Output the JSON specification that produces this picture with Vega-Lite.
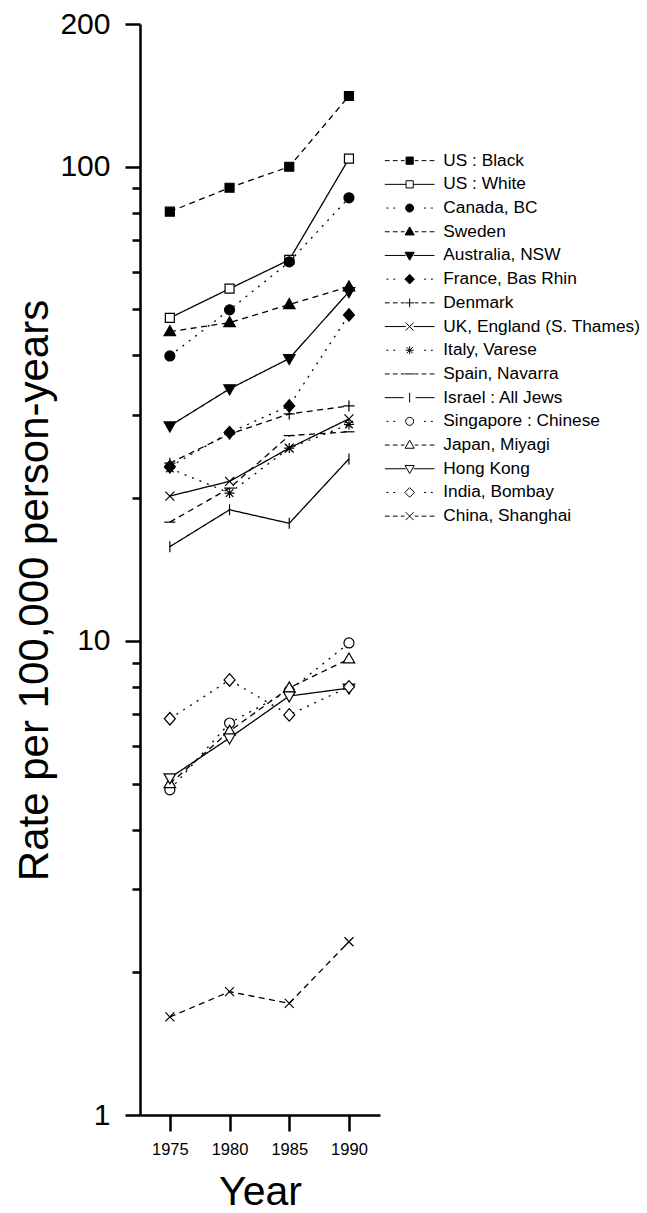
{
  "$schema": "https://vega.github.io/schema/vega-lite/v6.json",
  "autosize": "none",
  "padding": {"left": 140, "top": 24, "right": 267, "bottom": 98},
  "width": 240,
  "height": 1091,
  "background": "white",
  "config": {
    "view": {"stroke": null},
    "font": "Liberation Sans",
    "axis": {"grid": false, "domainColor": "black", "tickColor": "black", "labelColor": "black", "titleColor": "black", "titleFontWeight": "normal", "labelFont": "Liberation Sans", "titleFont": "Liberation Sans"}
  },
  "data": {
    "values": [
      {"country": "US : Black", "year": 1975, "rate": 80.4},
      {"country": "US : Black", "year": 1980, "rate": 90.3},
      {"country": "US : Black", "year": 1985, "rate": 100},
      {"country": "US : Black", "year": 1990, "rate": 141},
      {"country": "US : White", "year": 1975, "rate": 48.0},
      {"country": "US : White", "year": 1980, "rate": 55.3},
      {"country": "US : White", "year": 1985, "rate": 63.6},
      {"country": "US : White", "year": 1990, "rate": 104},
      {"country": "Canada, BC", "year": 1975, "rate": 39.9},
      {"country": "Canada, BC", "year": 1980, "rate": 49.9},
      {"country": "Canada, BC", "year": 1985, "rate": 63.0},
      {"country": "Canada, BC", "year": 1990, "rate": 86.0},
      {"country": "Sweden", "year": 1975, "rate": 44.9},
      {"country": "Sweden", "year": 1980, "rate": 46.9},
      {"country": "Sweden", "year": 1985, "rate": 51.2},
      {"country": "Sweden", "year": 1990, "rate": 55.8},
      {"country": "Australia, NSW", "year": 1975, "rate": 28.4},
      {"country": "Australia, NSW", "year": 1980, "rate": 34.0},
      {"country": "Australia, NSW", "year": 1985, "rate": 39.4},
      {"country": "Australia, NSW", "year": 1990, "rate": 54.5},
      {"country": "France, Bas Rhin", "year": 1975, "rate": 23.3},
      {"country": "France, Bas Rhin", "year": 1980, "rate": 27.5},
      {"country": "France, Bas Rhin", "year": 1985, "rate": 31.3},
      {"country": "France, Bas Rhin", "year": 1990, "rate": 48.7},
      {"country": "Denmark", "year": 1975, "rate": 23.7},
      {"country": "Denmark", "year": 1980, "rate": 27.3},
      {"country": "Denmark", "year": 1985, "rate": 30.1},
      {"country": "Denmark", "year": 1990, "rate": 31.3},
      {"country": "UK, England (S. Thames)", "year": 1975, "rate": 20.2},
      {"country": "UK, England (S. Thames)", "year": 1980, "rate": 21.7},
      {"country": "UK, England (S. Thames)", "year": 1985, "rate": 25.5},
      {"country": "UK, England (S. Thames)", "year": 1990, "rate": 29.4},
      {"country": "Italy, Varese", "year": 1975, "rate": 23.1},
      {"country": "Italy, Varese", "year": 1980, "rate": 20.5},
      {"country": "Italy, Varese", "year": 1985, "rate": 25.5},
      {"country": "Italy, Varese", "year": 1990, "rate": 28.6},
      {"country": "Spain, Navarra", "year": 1975, "rate": 17.8},
      {"country": "Spain, Navarra", "year": 1980, "rate": 21.0},
      {"country": "Spain, Navarra", "year": 1985, "rate": 27.1},
      {"country": "Spain, Navarra", "year": 1990, "rate": 27.6},
      {"country": "Israel : All Jews", "year": 1975, "rate": 15.8},
      {"country": "Israel : All Jews", "year": 1980, "rate": 18.9},
      {"country": "Israel : All Jews", "year": 1985, "rate": 17.7},
      {"country": "Israel : All Jews", "year": 1990, "rate": 24.2},
      {"country": "Singapore : Chinese", "year": 1975, "rate": 4.85},
      {"country": "Singapore : Chinese", "year": 1980, "rate": 6.71},
      {"country": "Singapore : Chinese", "year": 1985, "rate": 7.85},
      {"country": "Singapore : Chinese", "year": 1990, "rate": 9.9},
      {"country": "Japan, Miyagi", "year": 1975, "rate": 5.0},
      {"country": "Japan, Miyagi", "year": 1980, "rate": 6.45},
      {"country": "Japan, Miyagi", "year": 1985, "rate": 7.96},
      {"country": "Japan, Miyagi", "year": 1990, "rate": 9.16},
      {"country": "Hong Kong", "year": 1975, "rate": 5.14},
      {"country": "Hong Kong", "year": 1980, "rate": 6.24},
      {"country": "Hong Kong", "year": 1985, "rate": 7.65},
      {"country": "Hong Kong", "year": 1990, "rate": 7.95},
      {"country": "India, Bombay", "year": 1975, "rate": 6.85},
      {"country": "India, Bombay", "year": 1980, "rate": 8.27},
      {"country": "India, Bombay", "year": 1985, "rate": 6.98},
      {"country": "India, Bombay", "year": 1990, "rate": 8.0},
      {"country": "China, Shanghai", "year": 1975, "rate": 1.61},
      {"country": "China, Shanghai", "year": 1980, "rate": 1.82},
      {"country": "China, Shanghai", "year": 1985, "rate": 1.72},
      {"country": "China, Shanghai", "year": 1990, "rate": 2.32}
    ]
  },
  "encoding": {
    "x": {
      "field": "year", "type": "quantitative",
      "scale": {"domain": [1972.5, 1992.6], "nice": false, "zero": false},
      "axis": {"values": [1975, 1980, 1985, 1990], "format": "d", "labelFontSize": 16.5, "tickSize": 16, "tickWidth": 2.5, "domainWidth": 2.5, "labelPadding": 10, "labelFlush": false, "labelOverlap": false, "title": "Year", "titleFontSize": 41, "titlePadding": 15}
    },
    "y": {
      "field": "rate", "type": "quantitative",
      "scale": {"type": "log", "domain": [1, 200], "nice": false},
      "axis": {
        "values": [1, 2, 3, 4, 5, 6, 7, 8, 9, 10, 20, 30, 40, 50, 60, 70, 80, 90, 100, 200],
        "labelExpr": "(datum.value == 1 || datum.value == 10 || datum.value == 100 || datum.value == 200) ? format(datum.value, 'd') : ''",
        "tickSize": {"condition": {"test": "datum.value == 1 || datum.value == 10 || datum.value == 100 || datum.value == 200", "value": 15}, "value": 8},
        "tickWidth": 2.5, "domainWidth": 2.5,
        "labelFontSize": 30, "labelPadding": 15, "labelOverlap": false, "labelFlush": false,
        "title": "Rate per 100,000 person-years", "titleFontSize": 42, "titlePadding": 3, "titleY": 566
      }
    }
  },
  "layer": [
    {
      "mark": {"type": "line", "stroke": "black", "strokeWidth": 1.3},
      "encoding": {
        "detail": {"field": "country"},
        "order": {"field": "year"},
        "strokeDash": {
          "field": "country", "type": "nominal", "legend": null,
          "scale": {
            "domain": ["US : Black", "US : White", "Canada, BC", "Sweden", "Australia, NSW", "France, Bas Rhin", "Denmark", "UK, England (S. Thames)", "Italy, Varese", "Spain, Navarra", "Israel : All Jews", "Singapore : Chinese", "Japan, Miyagi", "Hong Kong", "India, Bombay", "China, Shanghai"],
            "range": [[6, 4.5], [1, 0], [2, 6], [6, 4.5], [1, 0], [2, 6], [6, 4.5], [1, 0], [2, 6], [6, 4.5], [1, 0], [2, 6], [6, 4.5], [1, 0], [2, 6], [6, 4.5]]
          }
        }
      }
    },
    {
      "mark": {"type": "point", "stroke": "black", "strokeWidth": 1.2, "opacity": 1, "size": 100},
      "encoding": {
        "shape": {
          "field": "country", "type": "nominal", "legend": null,
          "scale": {
            "domain": ["US : Black", "US : White", "Canada, BC", "Sweden", "Australia, NSW", "France, Bas Rhin", "Denmark", "UK, England (S. Thames)", "Italy, Varese", "Spain, Navarra", "Israel : All Jews", "Singapore : Chinese", "Japan, Miyagi", "Hong Kong", "India, Bombay", "China, Shanghai"],
            "range": [
              "M-0.9,-0.9H0.9V0.9H-0.9Z",
              "M-0.9,-0.9H0.9V0.9H-0.9Z",
              "M-1,0C-1,-0.552,-0.552,-1,0,-1C0.552,-1,1,-0.552,1,0C1,0.552,0.552,1,0,1C-0.552,1,-1,0.552,-1,0Z",
              "M0,-1.2L1.15,0.8H-1.15Z",
              "M0,1.2L1.15,-0.8H-1.15Z",
              "M0,-1.25L1.1,0L0,1.25L-1.1,0Z",
              "M-1.1,0H1.1M0,-1.1V1.1",
              "M-0.9,-0.9L0.9,0.9M-0.9,0.9L0.9,-0.9",
              "M-1,0H1M0,-1V1M-0.75,-0.75L0.75,0.75M-0.75,0.75L0.75,-0.75",
              "M-1.1,0H1.1",
              "M0,-1.1V1.1",
              "M-1,0C-1,-0.552,-0.552,-1,0,-1C0.552,-1,1,-0.552,1,0C1,0.552,0.552,1,0,1C-0.552,1,-1,0.552,-1,0Z",
              "M0,-1.2L1.15,0.8H-1.15Z",
              "M0,1.2L1.15,-0.8H-1.15Z",
              "M0,-1.25L1.1,0L0,1.25L-1.1,0Z",
              "M-0.9,-0.9L0.9,0.9M-0.9,0.9L0.9,-0.9"
            ]
          }
        },
        "fill": {
          "field": "country", "type": "nominal", "legend": null,
          "scale": {
            "domain": ["US : Black", "US : White", "Canada, BC", "Sweden", "Australia, NSW", "France, Bas Rhin", "Denmark", "UK, England (S. Thames)", "Italy, Varese", "Spain, Navarra", "Israel : All Jews", "Singapore : Chinese", "Japan, Miyagi", "Hong Kong", "India, Bombay", "China, Shanghai"],
            "range": ["black", "white", "black", "black", "black", "black", "black", "black", "black", "black", "black", "white", "white", "white", "white", "black"]
          }
        }
      }
    },
    {
      "mark": {"type": "point", "stroke": "black", "strokeWidth": 1, "opacity": 0},
      "encoding": {
        "shape": {
          "field": "country", "type": "nominal",
          "scale": {
            "domain": ["US : Black", "US : White", "Canada, BC", "Sweden", "Australia, NSW", "France, Bas Rhin", "Denmark", "UK, England (S. Thames)", "Italy, Varese", "Spain, Navarra", "Israel : All Jews", "Singapore : Chinese", "Japan, Miyagi", "Hong Kong", "India, Bombay", "China, Shanghai"],
            "range": [
              "M-6.2,0H-5M-4.2,0H-3M-2.2,0H-1.3M1.3,0H2.2M3,0H4.2M5,0H6.2M-0.9,-0.9H0.9V0.9H-0.9Z",
              "M-6.2,0H-0.9M0.9,0H6.2M-0.9,-0.9H0.9V0.9H-0.9Z",
              "M-5.8,0H-5.3M-4.1,0H-3.6M3.6,0H4.1M5.3,0H5.8M-1,0C-1,-0.552,-0.552,-1,0,-1C0.552,-1,1,-0.552,1,0C1,0.552,0.552,1,0,1C-0.552,1,-1,0.552,-1,0Z",
              "M-6.2,0H-5M-4.2,0H-3M-2.2,0H-1.3M1.3,0H2.2M3,0H4.2M5,0H6.2M0,-1.2L1.15,0.8H-1.15Z",
              "M-6.2,0H-1M1,0H6.2M0,1.2L1.15,-0.8H-1.15Z",
              "M-5.8,0H-5.3M-4.1,0H-3.6M3.6,0H4.1M5.3,0H5.8M0,-1.2L1.2,0L0,1.2L-1.2,0Z",
              "M-6.2,0H-5M-4.2,0H-3M-2.2,0H-1.3M1.3,0H2.2M3,0H4.2M5,0H6.2M-1.1,0H1.1M0,-1.1V1.1",
              "M-6.2,0H-1M1,0H6.2M-1,-1L1,1M-1,1L1,-1",
              "M-5.8,0H-5.3M-4.1,0H-3.6M3.6,0H4.1M5.3,0H5.8M-1,0H1M0,-1V1M-0.75,-0.75L0.75,0.75M-0.75,0.75L0.75,-0.75",
              "M-6.2,0H-5M-4.2,0H-3M-2.2,0H-1.3M1.3,0H2.2M3,0H4.2M5,0H6.2M-1.2,0H1.2",
              "M-6.2,0H-1.5M1.5,0H6.2M0,-1.2V1.2",
              "M-5.8,0H-5.3M-4.1,0H-3.6M3.6,0H4.1M5.3,0H5.8M-1,0C-1,-0.552,-0.552,-1,0,-1C0.552,-1,1,-0.552,1,0C1,0.552,0.552,1,0,1C-0.552,1,-1,0.552,-1,0Z",
              "M-6.2,0H-5M-4.2,0H-3M-2.2,0H-1.3M1.3,0H2.2M3,0H4.2M5,0H6.2M0,-1.2L1.15,0.8H-1.15Z",
              "M-6.2,0H-1M1,0H6.2M0,1.2L1.15,-0.8H-1.15Z",
              "M-5.8,0H-5.3M-4.1,0H-3.6M3.6,0H4.1M5.3,0H5.8M0,-1.2L1.2,0L0,1.2L-1.2,0Z",
              "M-6.2,0H-5M-4.2,0H-3M-2.2,0H-1.3M1.3,0H2.2M3,0H4.2M5,0H6.2M-1,-1L1,1M-1,1L1,-1"
            ]
          },
          "legend": {
            "title": null, "orient": "none", "legendX": 261, "legendY": 128, "padding": 0,
            "symbolSize": 64, "symbolStrokeWidth": 1, "symbolStrokeColor": "black", "symbolOpacity": 1,
            "labelFont": "Liberation Sans", "labelFontSize": 17.3, "labelColor": "black", "labelOffset": 25, "labelLimit": 400,
            "rowPadding": 5.7,
            "encode": {"symbols": {"update": {"opacity": {"value": 1}, "stroke": {"value": "black"}, "strokeWidth": {"value": 1}}}}
          }
        },
        "fill": {
          "field": "country", "type": "nominal",
          "scale": {
            "domain": ["US : Black", "US : White", "Canada, BC", "Sweden", "Australia, NSW", "France, Bas Rhin", "Denmark", "UK, England (S. Thames)", "Italy, Varese", "Spain, Navarra", "Israel : All Jews", "Singapore : Chinese", "Japan, Miyagi", "Hong Kong", "India, Bombay", "China, Shanghai"],
            "range": ["black", "white", "black", "black", "black", "black", "black", "black", "black", "black", "black", "white", "white", "white", "white", "black"]
          },
          "legend": {
            "title": null, "orient": "none", "legendX": 261, "legendY": 128, "padding": 0,
            "symbolSize": 64, "symbolStrokeWidth": 1, "symbolStrokeColor": "black", "symbolOpacity": 1,
            "labelFont": "Liberation Sans", "labelFontSize": 17.3, "labelColor": "black", "labelOffset": 25, "labelLimit": 400,
            "rowPadding": 5.7,
            "encode": {"symbols": {"update": {"opacity": {"value": 1}, "stroke": {"value": "black"}, "strokeWidth": {"value": 1}}}}
          }
        }
      }
    }
  ],
  "resolve": {"scale": {"shape": "independent", "fill": "independent"}}
}
